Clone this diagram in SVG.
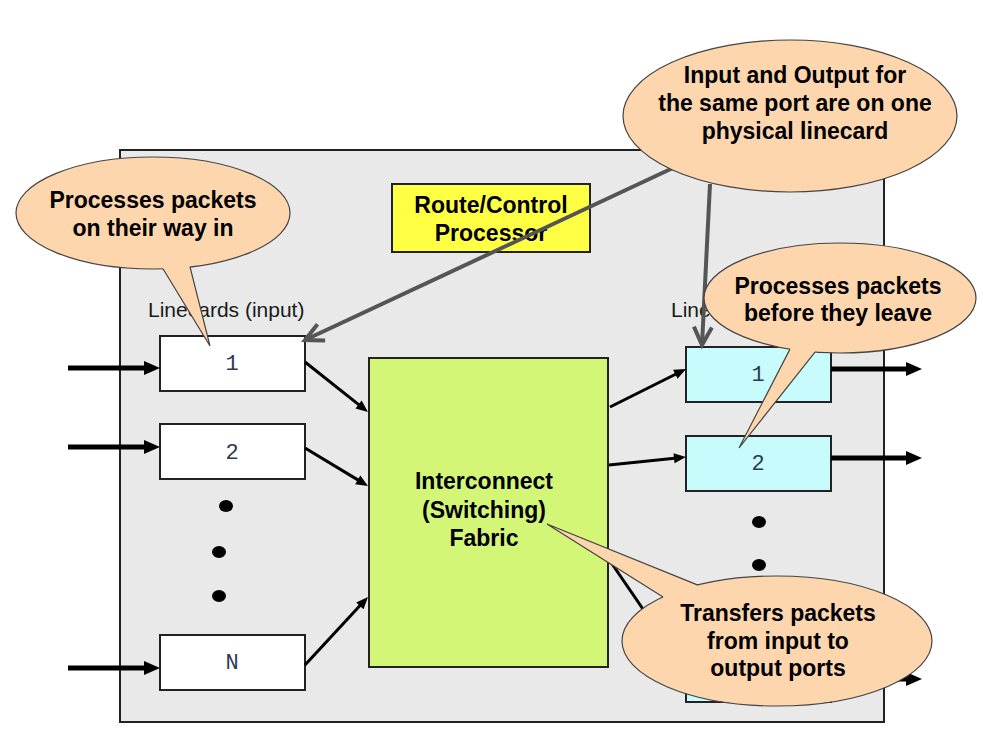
<svg xmlns="http://www.w3.org/2000/svg" width="983" height="741" viewBox="0 0 983 741">
<style>
.box{stroke:#222;stroke-width:2}
.card{fill:#fff;stroke:#222;stroke-width:2}
.ocard{fill:#c8fcfc;stroke:#222;stroke-width:2}
.num{font-family:"Liberation Mono",monospace;font-size:22px;fill:#2b3a55;text-anchor:middle}
.bold{font-family:"Liberation Sans",Arial,sans-serif;font-size:23px;font-weight:bold;fill:#000;text-anchor:middle}
.lbl{font-family:"Liberation Sans",Arial,sans-serif;font-size:21px;fill:#1a1a1a}
.thick{stroke:#000;stroke-width:5;fill:none}
.thin{stroke:#000;stroke-width:3;fill:none}
.gray{stroke:#555;stroke-width:4;fill:none}
.cell{fill:#fdd6ad;stroke:#444;stroke-width:1.2}
.cfill{fill:#fdd6ad}
.cline{fill:none;stroke:#444;stroke-width:1.2}
.dot{fill:#000}
</style>
<defs>
<marker id="ah" markerUnits="userSpaceOnUse" markerWidth="16" markerHeight="14" refX="4" refY="7" orient="auto" overflow="visible"><path d="M0,0 L16,7 L0,14 z" fill="#000"/></marker>
<marker id="ahs" markerUnits="userSpaceOnUse" markerWidth="12" markerHeight="10" refX="3" refY="5" orient="auto" overflow="visible"><path d="M0,0 L12,5 L0,10 z" fill="#000"/></marker>
<marker id="open" markerUnits="userSpaceOnUse" markerWidth="22" markerHeight="22" refX="20" refY="11" orient="auto" overflow="visible"><path d="M2,2 L20,11 L2,20" fill="none" stroke="#555" stroke-width="4" stroke-linejoin="miter"/></marker>
</defs>
<rect width="983" height="741" fill="#fff"/>
<g id="router">
<rect x="120" y="150" width="764" height="572" fill="#e9e9e9" class="box"/>
</g>
<g id="labels">
<text x="148" y="317" class="lbl">Linecards (input)</text>
<text x="671" y="317" class="lbl">Linecards (output)</text>
</g>
<g id="in1"><rect x="160" y="336" width="145" height="55" class="card"/><text x="232" y="370" class="num">1</text></g>
<g id="in2"><rect x="160" y="424" width="145" height="55" class="card"/><text x="232" y="459" class="num">2</text></g>
<g id="inDots"><ellipse cx="226" cy="506" rx="7" ry="6" class="dot"/><ellipse cx="219" cy="552" rx="7" ry="6" class="dot"/><ellipse cx="219" cy="596" rx="7" ry="6" class="dot"/></g>
<g id="inN"><rect x="160" y="635" width="145" height="55" class="card"/><text x="232" y="669" class="num">N</text></g>
<g id="out1"><rect x="686" y="347" width="145" height="55" class="ocard"/><text x="758" y="381" class="num">1</text></g>
<g id="out2"><rect x="686" y="436" width="145" height="55" class="ocard"/><text x="758" y="470" class="num">2</text></g>
<g id="outDots"><ellipse cx="759" cy="522" rx="7" ry="6" class="dot"/><ellipse cx="759" cy="565" rx="7" ry="6" class="dot"/></g>
<g id="outN"><rect x="686" y="647" width="145" height="55" class="ocard"/></g>
<g id="fabric">
<rect x="369" y="358" width="239" height="309" fill="#d3f677" class="box"/>
<text x="484" y="489" class="bold">Interconnect</text>
<text x="484" y="518" class="bold">(Switching)</text>
<text x="484" y="546" class="bold">Fabric</text>
</g>
<g id="rcp">
<rect x="392" y="184" width="198" height="68" fill="#ffff44" class="box"/>
<text x="491" y="213" class="bold">Route/Control</text>
<text x="491" y="241" class="bold">Processor</text>
</g>
<g id="connectors">
<line x1="68" y1="368" x2="148" y2="368" class="thick" marker-end="url(#ah)"/>
<line x1="68" y1="447" x2="148" y2="447" class="thick" marker-end="url(#ah)"/>
<line x1="68" y1="668" x2="148" y2="668" class="thick" marker-end="url(#ah)"/>
<line x1="305" y1="362" x2="360.9" y2="406.4" class="thin" marker-end="url(#ahs)"/>
<line x1="305" y1="448" x2="360.3" y2="481.4" class="thin" marker-end="url(#ahs)"/>
<line x1="305" y1="665" x2="361.9" y2="603.6" class="thin" marker-end="url(#ahs)"/>
<line x1="610" y1="407" x2="678" y2="373" class="thin" marker-end="url(#ahs)"/>
<line x1="609" y1="465" x2="677" y2="457.9" class="thin" marker-end="url(#ahs)"/>
<line x1="608" y1="558" x2="681" y2="664.6" class="thin" marker-end="url(#ahs)"/>
<line x1="831" y1="369" x2="910" y2="369" class="thick" marker-end="url(#ah)"/>
<line x1="831" y1="458" x2="910" y2="458" class="thick" marker-end="url(#ah)"/>
<line x1="831" y1="679" x2="910" y2="679" class="thick" marker-end="url(#ah)"/>
<line x1="675" y1="167" x2="305" y2="340" class="gray" marker-end="url(#open)"/>
<line x1="710" y1="184" x2="702" y2="345" class="gray" marker-end="url(#open)"/>
</g>
<g id="calloutIn">
<ellipse cx="153" cy="213" rx="137" ry="56" class="cell"/>
<polygon points="163,260 190,260 190,266.9 210,346 163,268.8" class="cfill"/>
<polyline points="163,268.8 210,346 190,266.9" class="cline"/>
<text x="153" y="208" class="bold">Processes packets</text>
<text x="153" y="236" class="bold">on their way in</text>
</g>
<g id="calloutPort">
<ellipse cx="790" cy="116" rx="167" ry="76" class="cell"/>
<text x="795" y="83" class="bold">Input and Output for</text>
<text x="795" y="111" class="bold">the same port are on one</text>
<text x="795" y="139" class="bold">physical linecard</text>
</g>
<g id="calloutOut">
<ellipse cx="840" cy="298" rx="136" ry="55" class="cell"/>
<polygon points="790,343 815,343 815,352.1 739,448 790,349.1" class="cfill"/>
<polyline points="790,349.1 739,448 815,352.1" class="cline"/>
<text x="838" y="294" class="bold">Processes packets</text>
<text x="838" y="321" class="bold">before they leave</text>
</g>
<g id="calloutFabric">
<ellipse cx="777" cy="641" rx="155" ry="65" class="cell"/>
<polygon points="547,524 698,585.1 700,600 665,605 663,597" class="cfill"/>
<polyline points="663,597 547,524 698,585.1" class="cline"/>
<text x="778" y="621" class="bold">Transfers packets</text>
<text x="778" y="649" class="bold">from input to</text>
<text x="778" y="676" class="bold">output ports</text>
</g>
</svg>
